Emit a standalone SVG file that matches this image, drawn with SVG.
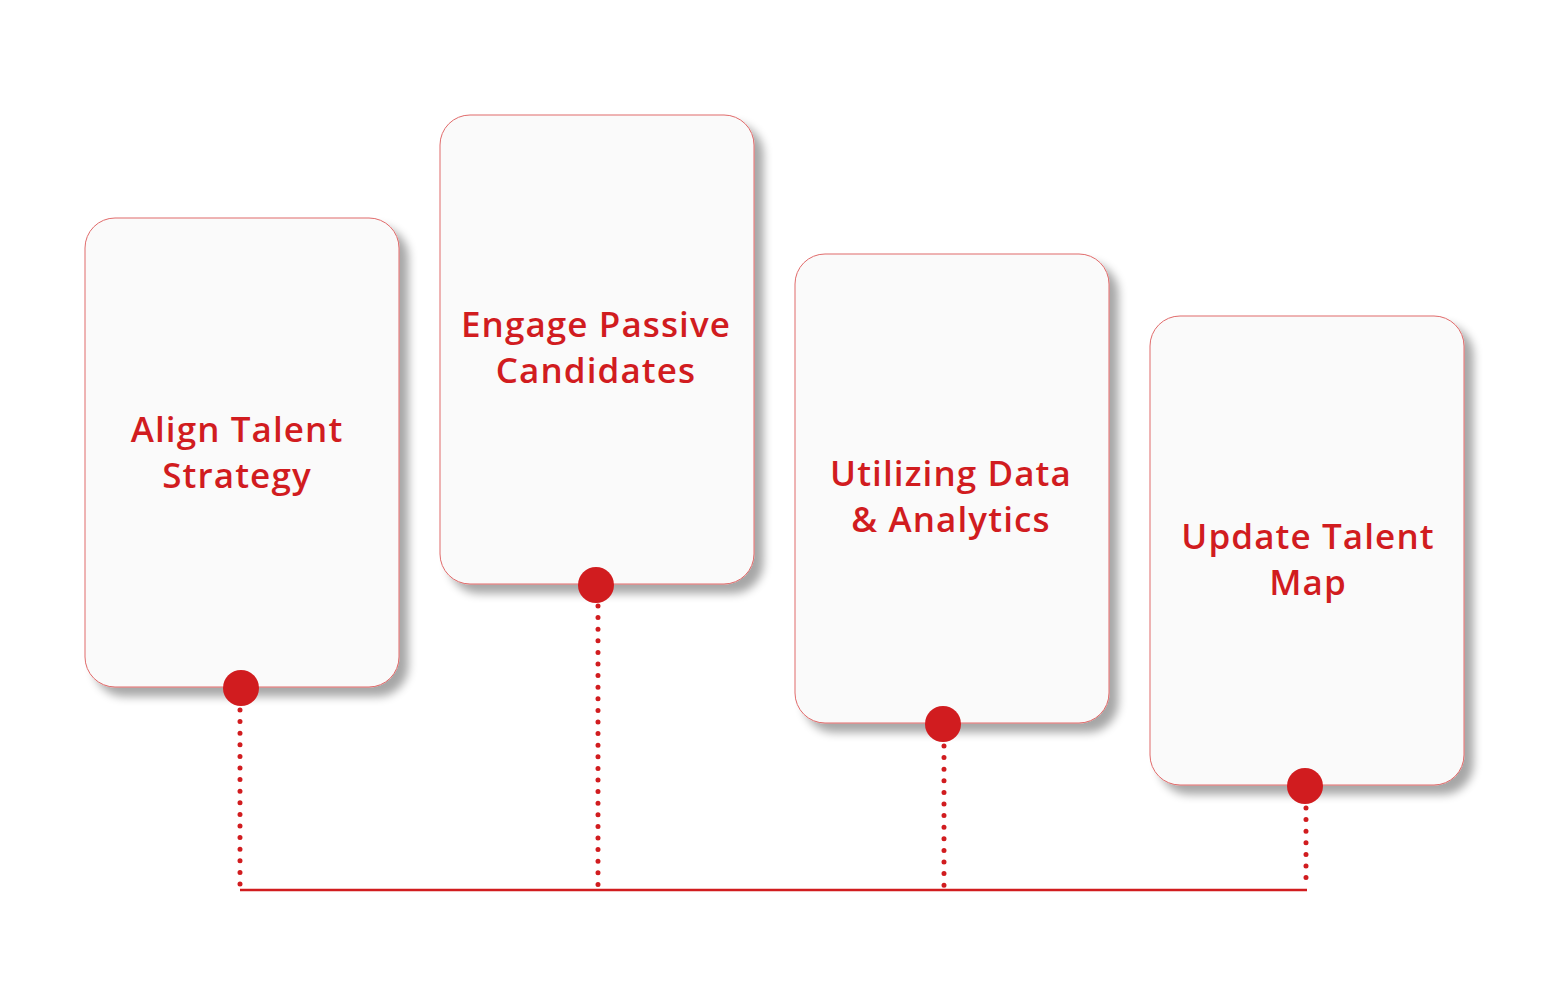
<svg xmlns="http://www.w3.org/2000/svg" width="1552" height="1008" viewBox="0 0 1552 1008">
<style>
.card{fill:#fafafa;stroke:#e06a6a;stroke-width:1;filter:url(#sh)}
.t{font-family:"Open Sans","Liberation Sans",sans-serif;font-weight:600;font-size:35px;letter-spacing:1.1px;fill:#d11c1f;text-anchor:middle}
.dot{fill:#d11c1f}
.dl{stroke:#d11c1f;stroke-width:5;stroke-linecap:round;stroke-dasharray:0 11.6;fill:none}
</style>
<defs><filter id="sh" x="-20%" y="-20%" width="150%" height="150%"><feGaussianBlur in="SourceAlpha" stdDeviation="5"/><feOffset dx="9" dy="9"/><feComponentTransfer><feFuncA type="linear" slope="0.35"/></feComponentTransfer><feMerge><feMergeNode/><feMergeNode in="SourceGraphic"/></feMerge></filter></defs>
<rect width="1552" height="1008" fill="#fff"/>
<g id="connectors">
<path class="dl" d="M240 710V888M598 606V888M944 746V888M1306 808V888"/>
<path d="M240 890H1307" stroke="#d11c1f" stroke-width="2.5"/>
</g>
<g id="n1"><rect class="card" x="85" y="218" width="314" height="469" rx="30"/><text class="t" x="237" y="442">Align Talent</text><text class="t" x="237" y="488">Strategy</text><circle class="dot" cx="241" cy="688" r="18"/></g>
<g id="n2"><rect class="card" x="440" y="115" width="314" height="469" rx="30"/><text class="t" x="596" y="337">Engage Passive</text><text class="t" x="596" y="383">Candidates</text><circle class="dot" cx="596" cy="585" r="18"/></g>
<g id="n3"><rect class="card" x="795" y="254" width="314" height="469" rx="30"/><text class="t" x="951" y="486">Utilizing Data</text><text class="t" x="951" y="532">&amp; Analytics</text><circle class="dot" cx="943" cy="724" r="18"/></g>
<g id="n4"><rect class="card" x="1150" y="316" width="314" height="469" rx="30"/><text class="t" x="1308" y="549">Update Talent</text><text class="t" x="1308" y="595">Map</text><circle class="dot" cx="1305" cy="786" r="18"/></g>
</svg>
